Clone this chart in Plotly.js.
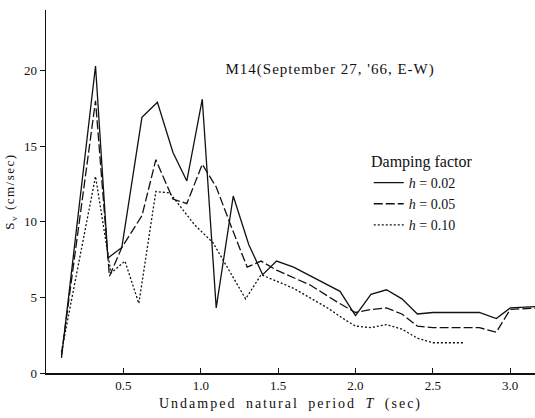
<!DOCTYPE html>
<html>
<head>
<meta charset="utf-8">
<script src="https://cdn.plot.ly/plotly-3.0.1.min.js"></script>
<style>
html,body{margin:0;padding:0;background:#fff;}
#chart{width:535px;height:418px;}
#chart .xtitle{letter-spacing:2px;word-spacing:4px;}
#chart .ytitle{letter-spacing:1.5px;}
#chart .annotation-text{letter-spacing:1px;}
</style>
</head>
<body>
<div id="chart"></div>
<script>
// h = 0.02 (solid)
const T02 = [0.10, 0.32, 0.40, 0.49, 0.62, 0.72, 0.82, 0.91, 1.01, 1.10, 1.21, 1.31, 1.40, 1.49, 1.60, 1.75, 1.90, 2.00, 2.10, 2.20, 2.30, 2.40, 2.50, 2.80, 2.91, 3.00, 3.17];
const S02 = [1.0, 20.3, 7.6, 8.3, 16.9, 17.9, 14.6, 12.7, 18.1, 4.3, 11.7, 8.5, 6.5, 7.4, 7.0, 6.2, 5.4, 3.8, 5.2, 5.5, 4.9, 3.9, 4.0, 4.0, 3.6, 4.3, 4.4];
// h = 0.05 (dashed)
const T05 = [0.10, 0.32, 0.41, 0.49, 0.62, 0.71, 0.82, 0.91, 1.01, 1.10, 1.20, 1.30, 1.39, 1.49, 1.71, 1.88, 2.00, 2.10, 2.20, 2.30, 2.40, 2.50, 2.80, 2.91, 3.00, 3.17];
const S05 = [1.2, 18.0, 6.4, 8.3, 10.4, 14.1, 11.5, 11.2, 13.8, 12.3, 9.6, 7.0, 7.4, 6.8, 5.8, 4.7, 4.0, 4.2, 4.3, 3.9, 3.1, 3.0, 3.0, 2.7, 4.2, 4.3];
// h = 0.10 (dotted)
const T10 = [0.10, 0.32, 0.42, 0.51, 0.60, 0.71, 0.80, 0.96, 1.08, 1.29, 1.39, 1.55, 1.60, 1.82, 1.92, 2.00, 2.10, 2.20, 2.30, 2.40, 2.50, 2.70];
const S10 = [1.4, 13.0, 6.6, 7.4, 4.6, 12.0, 11.9, 9.8, 8.6, 4.9, 6.5, 5.8, 5.6, 4.3, 3.6, 3.1, 3.0, 3.2, 2.9, 2.3, 2.0, 2.0];

const seriesNames = ['<i>h</i> = 0.02', '<i>h</i> = 0.05', '<i>h</i> = 0.10'];
const xTicks = [0.5, 1.0, 1.5, 2.0, 2.5, 3.0];
const xTickText = ['0.5', '1.0', '1.5', '2.0', '2.5', '3.0'];
const yTicks = [0, 5, 10, 15, 20];

const serif = 'Liberation Serif, DejaVu Serif, serif';

const traces = [
  {x: T02, y: S02, name: seriesNames[0], mode: 'lines', line: {color: '#111', width: 1.3, dash: 'solid'}},
  {x: T05, y: S05, name: seriesNames[1], mode: 'lines', line: {color: '#111', width: 1.3, dash: '9px,3px'}},
  {x: T10, y: S10, name: seriesNames[2], mode: 'lines', line: {color: '#111', width: 1.3, dash: '2px,2px'}}
];

const layout = {
  width: 535, height: 418,
  margin: {l: 46, r: 0, t: 10, b: 45},
  paper_bgcolor: '#fff', plot_bgcolor: '#fff',
  font: {family: serif, color: '#111', size: 13},
  showlegend: true,
  legend: {
    x: 0.66, y: 0.625, xanchor: 'left', yanchor: 'top',
    bgcolor: 'rgba(0,0,0,0)',
    font: {family: serif, size: 14, color: '#111'},
    title: {text: 'Damping factor', side: 'top center', font: {family: serif, size: 16}},
    itemwidth: 30
  },
  xaxis: {
    range: [0, 3.16], showgrid: false, zeroline: false,
    showline: true, linecolor: '#111', linewidth: 1.5,
    ticks: 'inside', ticklen: 5, tickcolor: '#111',
    tickvals: xTicks, ticktext: xTickText,
    tickfont: {family: serif, size: 13},
    title: {text: 'Undamped natural period <i>T</i> (sec)', font: {family: serif, size: 14}, standoff: 6}
  },
  yaxis: {
    range: [0, 24], showgrid: false, zeroline: false,
    showline: true, linecolor: '#111', linewidth: 1.5,
    ticks: 'outside', ticklen: 5, tickcolor: '#111',
    tickvals: yTicks, tickfont: {family: serif, size: 13},
    title: {text: 'S<sub>v</sub> (cm/sec)', font: {family: serif, size: 13}, standoff: 6}
  },
  annotations: [{
    text: "M14(September 27, '66, E-W)", xref: 'paper', yref: 'paper',
    x: 0.58, y: 0.835, xanchor: 'center', yanchor: 'middle', showarrow: false,
    font: {family: serif, size: 15, color: '#111'}
  }]
};

Plotly.newPlot('chart', traces, layout, {displayModeBar: false, staticPlot: true});
</script>
</body>
</html>
